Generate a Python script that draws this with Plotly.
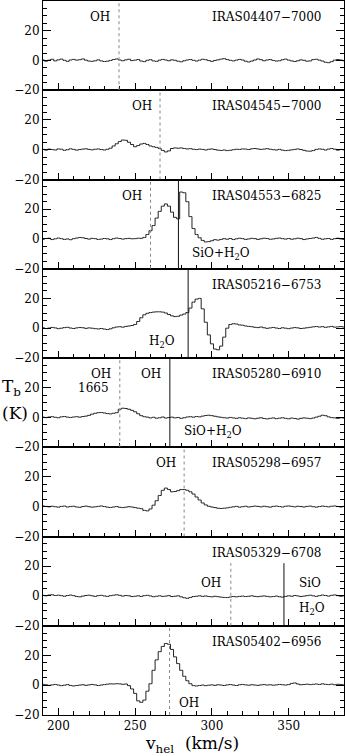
"""
Stacked Tb spectra of eight IRAS sources (v_hel vs brightness temperature).
"""

import plotly.graph_objects as go
from plotly.subplots import make_subplots

FONT = "DejaVu Serif"

# channel velocities (km/s)
velocity = [
    190, 192, 194, 196, 198, 200, 202, 204, 206, 208,
    210, 212, 214, 216, 218, 220, 222, 224, 226, 228,
    230, 232, 234, 236, 238, 240, 242, 244, 246, 248,
    250, 252, 254, 256, 258, 260, 262, 264, 266, 268,
    270, 272, 274, 276, 278, 280, 282, 284, 286, 288,
    290, 292, 294, 296, 298, 300, 302, 304, 306, 308,
    310, 312, 314, 316, 318, 320, 322, 324, 326, 328,
    330, 332, 334, 336, 338, 340, 342, 344, 346, 348,
    350, 352, 354, 356, 358, 360, 362, 364, 366, 368,
    370, 372, 374, 376, 378, 380, 382, 384, 386,
]

sources = [
    "IRAS04407−7000", "IRAS04545−7000", "IRAS04553−6825", "IRAS05216−6753",
    "IRAS05280−6910", "IRAS05298−6957", "IRAS05329−6708", "IRAS05402−6956",
]

tb_04407 = [
    0.3, -0.5, 0.2, 0.8, -0.3, 0.4, 0.9, 0.1, -0.6, 0.3,
    0.7, 0.2, 0.5, 1.0, 0.2, -0.4, -0.6, -0.2, 0.4, -0.3,
    -0.7, -0.5, 0.0, 0.6, 1.0, 0.3, -0.2, 0.4, 0.8, -0.1,
    0.2, 0.6, -0.4, -0.8, 0.1, 0.5, -0.3, -0.6, 0.2, 0.7,
    0.3, -0.2, 0.4, 0.1, -0.5, -0.9, -0.2, 0.3, 0.6, 0.1,
    -0.4, 0.2, 0.8, 0.5, -0.1, -0.6, 0.0, 0.4, 0.9, 1.2,
    0.6, 0.1, -0.3, 0.2, 0.7, 0.3, -0.5, -1.0, -0.4, 0.3,
    1.0, 0.5, -0.2, 0.3, 0.6, 0.0, -0.4, -0.2, 0.5, 0.9,
    0.2, -0.3, -0.7, -0.2, 0.4, 0.1, -0.5, -0.3, 0.6, 0.8,
    0.2, -0.4, -1.2, -1.5, -0.8, 0.2, 0.6, 0.3, -0.2,
]
tb_04545 = [
    0.2, -0.3, 0.4, 0.1, -0.2, 0.5, 0.3, -0.4, 0.0, 0.6,
    0.2, -0.3, 0.1, 0.4, 0.6, 0.2, -0.1, 0.3, 0.5, 0.1,
    -0.2, 0.3, 1.0, 2.5, 4.0, 5.5, 6.5, 6.3, 5.0, 3.5,
    2.0, 2.8, 3.8, 4.2, 3.5, 2.5, 2.0, 1.5, 0.8, -0.5,
    -1.5, -0.8, 0.8, 1.2, 1.0, 1.2, 0.8, 0.5, 0.7, 0.3,
    0.1, 0.4, 0.2, -0.2, 0.3, 0.5, 0.1, -0.3, -0.5, -0.2,
    -0.6, -0.4, 0.0, 0.3, 0.2, 0.5, 0.4, 0.1, 0.6, 0.8,
    0.5, 0.2, 0.4, 0.7, 0.3, 0.0, -0.2, 0.2, -0.3, -0.6,
    -0.4, -0.1, 0.2, 0.5, 0.1, -0.4, -0.9, -1.0, -0.6, 0.2,
    0.5, 0.3, -0.2, 0.4, 0.8, 0.3, -0.3, 0.2, -0.1,
]
tb_04553 = [
    -0.2, 0.3, 0.5, -0.4, 0.1, 0.6, 0.2, -0.3, 0.0, -0.5,
    0.2, 0.6, 1.0, 0.8, 0.3, -0.1, 0.4, 0.2, -0.3, -0.1,
    0.3, 0.1, -0.4, 0.2, 0.6, 0.3, -0.1, 0.2, 0.4, 0.1,
    0.2, 0.5, 0.4, 1.0, 3.0, 5.5, 9.0, 14.0, 18.5, 22.0,
    23.5, 22.0, 18.0, 14.5, 13.5, 31.5, 31.0, 25.0, 15.0, 7.0,
    3.0, 0.8, -1.0, -2.0, -1.8, -1.2, -0.5, -0.8, -0.3, 0.2,
    -0.2, 0.3, -0.4, 0.1, 0.5, 0.2, -0.3, 0.0, 0.4, 0.2,
    -0.3, 0.1, 0.5, 0.3, -0.2, 0.0, 0.4, 0.6, 0.2, -0.1,
    0.3, -0.2, 0.1, 0.5, 0.2, -0.4, 0.0, 0.3, 0.6, 1.0,
    0.4, -0.2, 0.1, 0.3, -0.3, 0.2, 0.5, 0.0, -0.3,
]
tb_05216 = [
    0.3, -0.2, 0.1, 0.5, 0.2, -0.3, 0.0, 0.4, 0.6, 0.1,
    -0.2, 0.2, 0.5, 0.3, -0.1, 0.2, 0.0, -0.3, -0.5, -0.2,
    -0.6, -0.9, -0.4, 0.3, 0.8, 1.0, 0.7, 1.2, 1.5, 1.8,
    2.5, 4.5, 7.0, 9.0, 10.0, 10.5, 10.8, 11.0, 11.0, 10.8,
    10.2, 9.2, 8.3, 7.8, 8.0, 8.8, 9.5, 10.5, 13.5, 17.5,
    19.5, 20.0, 13.0, 4.0, -4.5, -10.5, -14.0, -14.5, -12.0, -6.0,
    0.0, 2.5, 3.0, 2.8, 2.2, 2.0, 1.5, 1.2, 1.0, 0.6,
    0.4, 0.8, 0.3, -0.1, 0.2, 0.5, 0.1, -0.2, 0.3, 0.0,
    -0.3, 0.1, 0.4, 0.2, -0.2, 0.0, 0.3, 0.6, 0.9, 1.1,
    0.8, 1.0, 0.6, 0.9, 1.2, 0.7, 0.9, 1.1, 0.8,
]
tb_05280 = [
    0.2, -0.1, 0.3, 0.5, 0.1, -0.2, 0.4, 0.6, 0.2, 0.0,
    0.3, 0.5, 0.2, 0.6, 0.9, 1.4, 2.2, 2.8, 3.2, 3.3,
    3.0, 2.6, 2.4, 2.8, 3.2, 5.5, 6.2, 6.0, 5.5, 4.8,
    3.8, 2.5, 1.2, 0.5, 0.2, -0.3, 0.1, -0.5, -0.2, 0.3,
    -0.4, -0.1, 0.2, -0.3, 0.0, -0.6, -0.2, 0.3, 0.5, 0.2,
    0.6, 0.4, 0.9, 1.3, 1.5, 1.2, 0.8, 0.4, 0.1, -0.2,
    -0.4, 0.0, -0.3, -0.6, -0.2, -0.5, -0.8, -0.3, -0.6, -0.9,
    -0.5, -0.2, -0.7, -1.0, -0.6, -0.3, -0.8, -0.5, -0.2, -0.6,
    -0.9, -0.4, -0.7, -1.1, -0.6, -0.3, -0.5, -0.8, -0.4, 0.2,
    0.8, 1.5, 1.2, 0.4, -0.1, -0.3, -0.6, -0.2, -0.4,
]
tb_05298 = [
    0.5, 0.2, -0.1, 0.3, 0.0, -0.3, 0.2, 0.4, -0.2, 0.1,
    0.3, -0.2, -0.4, 0.1, 0.4, 0.0, -0.3, -0.1, 0.2, 0.5,
    0.1, -0.3, -0.5, -0.2, 0.1, -0.4, -0.6, -0.3, 0.0, -0.2,
    -0.6, -1.0, -1.3, -2.5, -2.8, -1.5, 1.0, 4.0, 7.5, 11.0,
    12.5, 11.5, 10.0, 10.2, 10.8, 11.5, 11.5, 11.0, 10.0, 8.5,
    6.5, 4.5, 2.5, 1.2, 0.3, -0.2, -0.6, -1.0, -1.2, -1.0,
    -0.8, -0.4, -0.1, 0.2, -0.3, 0.0, 0.3, -0.2, 0.1, 0.4,
    0.2, -0.1, 0.3, 0.0, -0.3, 0.2, 0.4, 0.1, -0.2, 0.3,
    0.5, 0.2, -0.1, 0.3, 0.1, -0.2, 0.2, 0.4, 0.0, -0.3,
    0.1, 0.4, 0.2, -0.1, 0.3, 0.5, 0.1, -0.2, 0.2,
]
tb_05329 = [
    0.4, 0.1, 0.6, 0.8, 0.3, 0.5, 0.2, -0.2, 0.3, 0.6,
    0.2, -0.4, -0.6, -0.1, 0.3, 0.5, 0.1, -0.3, 0.2, 0.4,
    0.0, -0.3, 0.2, 0.5, 0.8, 0.4, -0.1, 0.3, 0.1, -0.4,
    -0.2, 0.1, -0.3, 0.2, 0.4, 0.0, -0.5, -0.2, 0.1, -0.3,
    -0.1, 0.2, -0.4, -0.2, 0.1, -0.6, -1.2, -1.6, -1.0, -0.4,
    -0.2, 0.1, -0.3, 0.0, -0.4, -0.6, -0.2, -0.5, -0.8, -1.0,
    -1.1, -0.7, -0.4, -0.6, -0.3, -0.1, -0.4, -0.2, 0.1, -0.3,
    -0.5, -0.2, 0.0, -0.3, -0.6, -0.4, -0.1, -0.5, -0.8, -0.3,
    0.1, -0.2, 0.3, 0.0, -0.4, -0.1, 0.2, 0.5, 0.1, -0.3,
    0.2, 0.6, 0.3, -0.1, 0.4, 0.7, 0.2, -0.2, 0.1,
]
tb_05402 = [
    0.6, 0.3, -0.1, 0.2, 0.5, 0.1, -0.3, 0.0, 0.4, -0.2,
    -0.5, -0.2, 0.1, 0.3, -0.1, 0.2, 0.5, 0.2, -0.2, 0.1,
    0.4, 0.7, 0.9, 0.8, 1.0, 0.9, 0.6, 0.8, -0.3, -2.5,
    -5.5, -10.5, -11.5, -10.0, -4.0, 1.0, 10.0, 17.0, 22.5, 26.0,
    28.0, 27.5, 24.0, 19.0, 14.5, 10.0, 6.0, 3.0, 1.0, -0.3,
    -0.5, -0.2, 0.1, -0.3, 0.0, 0.2, -0.1, 0.3, 0.1, -0.2,
    0.2, 0.4, 0.1, -0.2, 0.3, 0.5, 0.2, 0.0, 0.3, 0.1,
    -0.1, 0.2, 0.4, 0.1, 0.3, 0.0, 0.2, 0.5, 0.3, 0.1,
    0.4, 1.2, 1.5, 0.8, 0.3, 0.5, 0.7, 0.4, 0.6, 0.8,
    0.5, 0.9, 0.6, 0.4, 0.7, 0.3, 0.6, 0.5, 0.2,
]
spectra = [tb_04407, tb_04545, tb_04553, tb_05216,
           tb_05280, tb_05298, tb_05329, tb_05402]

# OH (dotted) and SiO/H2O (solid) marker velocities per panel
oh_velocity = [239.5, 266.2, 260.0, None, 240.0, 281.9, 312.3, 272.4]
maser_velocity = [None, None, 278.2, 284.5, 272.6, None, 346.9, None]
# upper Tb end of the marker lines (panel 7 stops below the source name)
marker_top = [39.9, 39.9, 39.9, 39.9, 39.9, 39.9, 22, 39.9]

# extra labels: (panel, text, velocity, Tb, anchor)
line_labels = [
    (1, "OH", 235.0, 29, "right"),
    (2, "OH", 262.0, 29, "right"),
    (3, "OH", 255.5, 29, "right"),
    (3, "SiO+H<sub>2</sub>O", 285.5, -10, "left"),
    (4, "H<sub>2</sub>O", 277.5, -9, "right"),
    (5, "OH", 235.5, 29.5, "right"),
    (5, "1665", 234.0, 20, "right"),
    (5, "OH", 268.0, 29.5, "right"),
    (5, "SiO+H<sub>2</sub>O", 280.5, -10, "left"),
    (6, "OH", 278.0, 29.5, "right"),
    (7, "OH", 307.5, 8.5, "right"),
    (7, "SiO", 355.5, 8.5, "left"),
    (7, "H<sub>2</sub>O", 355.5, -9, "left"),
    (8, "OH", 277.5, -12, "left"),
]


def build_figure() -> go.Figure:
    """Stack the eight spectra with shared velocity axis."""
    n = len(spectra)
    fig = make_subplots(rows=n, cols=1, shared_xaxes=True,
                        vertical_spacing=0)

    for i, tb in enumerate(spectra):
        row = i + 1
        fig.add_trace(go.Scatter(
            x=velocity, y=tb, mode="lines", line_shape="hvh",
            line=dict(color="#222", width=1), showlegend=False,
            hoverinfo="skip",
        ), row=row, col=1)

        if oh_velocity[i] is not None:
            fig.add_shape(type="line", x0=oh_velocity[i], x1=oh_velocity[i],
                          y0=-20, y1=marker_top[i], row=row, col=1,
                          line=dict(color="#888", width=1, dash="dot"))
        if maser_velocity[i] is not None:
            fig.add_shape(type="line", x0=maser_velocity[i],
                          x1=maser_velocity[i], y0=-20, y1=marker_top[i],
                          row=row, col=1, line=dict(color="#111", width=1))

        fig.add_annotation(text=sources[i], x=372, y=29, row=row, col=1,
                           xanchor="right", yanchor="middle",
                           showarrow=False)

    for panel, text, v, t, anchor in line_labels:
        fig.add_annotation(text=text, x=v, y=t, row=panel, col=1,
                           xanchor=anchor, yanchor="middle",
                           showarrow=False)

    fig.update_xaxes(
        range=[190, 386], tick0=0, dtick=50, ticks="inside", ticklen=7,
        tickcolor="black", showline=True, linecolor="black", linewidth=1,
        mirror=True, showgrid=False, zeroline=False,
        minor=dict(dtick=10, ticks="inside", ticklen=4, tickcolor="black"),
    )
    fig.update_yaxes(
        range=[-20, 39.9], tick0=0, dtick=20, ticks="inside", ticklen=8,
        tickcolor="black", showline=True, linecolor="black", linewidth=1,
        mirror="ticks", showgrid=False, zeroline=False,
        minor=dict(dtick=5, ticks="inside", ticklen=4, tickcolor="black"),
    )

    # axis titles
    fig.add_annotation(text="v<sub>hel</sub>\u00a0\u00a0(km/s)",
                       xref="paper", yref="paper", x=0.495, y=-0.0415,
                       showarrow=False, xanchor="center", yanchor="middle",
                       font=dict(size=17))
    fig.add_annotation(text="T<sub>b</sub>", xref="paper", yref="paper",
                       x=-0.143, y=0.458, showarrow=False,
                       xanchor="left", yanchor="middle",
                       font=dict(size=17))
    fig.add_annotation(text="(K)", xref="paper", yref="paper",
                       x=-0.143, y=0.423, showarrow=False,
                       xanchor="left", yanchor="middle",
                       font=dict(size=17))

    fig.update_layout(
        width=345, height=756,
        margin=dict(l=43, r=1, t=1, b=41),
        paper_bgcolor="white", plot_bgcolor="white",
        font=dict(family=FONT, size=12, color="black"),
    )
    return fig


fig = build_figure()
# drop the browser's default body margin so the figure sits at the corner
fig.write_html("out.html", config={"displayModeBar": False},
               post_script="document.body.style.margin = '0';")
